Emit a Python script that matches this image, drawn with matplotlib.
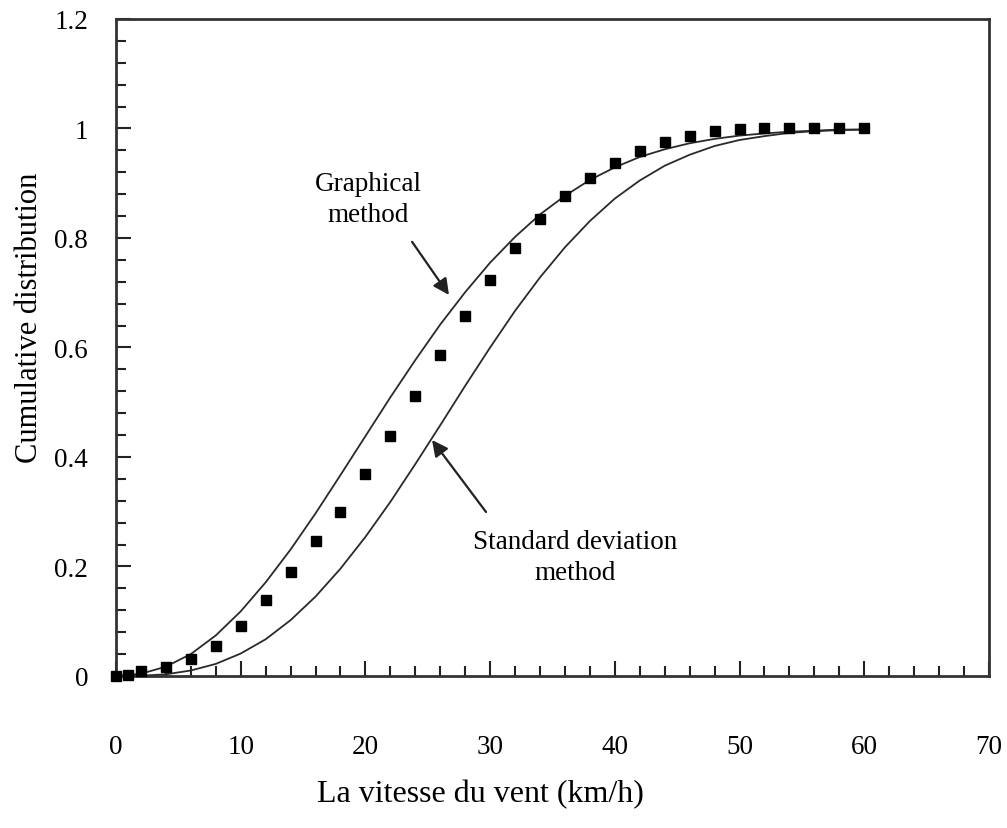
import matplotlib
matplotlib.use("Agg")
import matplotlib.pyplot as plt
from matplotlib.ticker import MultipleLocator

plt.rcParams['font.family'] = ['Liberation Serif', 'DejaVu Serif']

# Observed cumulative distribution (squares)
obs_speed = [0, 1, 2, 4, 6, 8, 10, 12, 14, 16, 18, 20, 22, 24, 26, 28, 30,
             32, 34, 36, 38, 40, 42, 44, 46, 48, 50, 52, 54, 56, 58, 60]
obs_cdf = [0.0, 0.002, 0.009, 0.016, 0.031, 0.055, 0.092, 0.139, 0.190, 0.247,
           0.299, 0.368, 0.438, 0.511, 0.586, 0.657, 0.723, 0.782, 0.835, 0.876,
           0.910, 0.937, 0.958, 0.976, 0.987, 0.996, 0.999, 1.0, 1.0, 1.0, 1.0, 1.0]

# Fitted curves
curve_speed = [0, 2, 4, 6, 8, 10, 12, 14, 16, 18, 20, 22, 24, 26, 28, 30,
               32, 34, 36, 38, 40, 42, 44, 46, 48, 50, 52, 54, 56, 58, 60]
graphical_cdf = [0.0, 0.004, 0.017, 0.040, 0.074, 0.118, 0.171, 0.231, 0.297,
                 0.367, 0.438, 0.509, 0.577, 0.642, 0.701, 0.755, 0.802, 0.843,
                 0.877, 0.906, 0.929, 0.948, 0.962, 0.973, 0.981, 0.987, 0.991,
                 0.994, 0.996, 0.998, 0.998]
stddev_cdf = [0.0, 0.0005, 0.003, 0.010, 0.022, 0.041, 0.067, 0.102, 0.145,
              0.196, 0.254, 0.318, 0.387, 0.458, 0.530, 0.600, 0.667, 0.728,
              0.783, 0.831, 0.872, 0.905, 0.932, 0.952, 0.968, 0.979, 0.986,
              0.992, 0.995, 0.997, 0.998]

x_ticks = [0, 10, 20, 30, 40, 50, 60, 70]
y_ticks = [0, 0.2, 0.4, 0.6, 0.8, 1.0, 1.2]
y_tick_labels = ['0', '0.2', '0.4', '0.6', '0.8', '1', '1.2']

fig = plt.figure(figsize=(10.07, 8.29), dpi=100)
ax = fig.add_axes([0.1152, 0.1834, 0.8669, 0.7925])

ax.plot(curve_speed, graphical_cdf, color='#2a2a2a', lw=1.3)
ax.plot(curve_speed, stddev_cdf, color='#2a2a2a', lw=1.3)
ax.plot(obs_speed, obs_cdf, 's', color='black', ms=7, clip_on=False, zorder=5)

ax.set_xlim(0, 70)
ax.set_ylim(0, 1.2)
ax.set_xticks(x_ticks)
ax.set_xticklabels([str(t) for t in x_ticks])
ax.set_yticks(y_ticks)
ax.set_yticklabels(y_tick_labels)
ax.xaxis.set_minor_locator(MultipleLocator(2))
ax.yaxis.set_minor_locator(MultipleLocator(0.04))

ax.tick_params(which='both', direction='in', top=False, right=False,
               color='#222222', width=1.5)
ax.tick_params(which='major', length=11)
ax.tick_params(which='minor', length=7)
ax.tick_params(axis='x', which='major', pad=42, labelsize=19.5)
ax.tick_params(axis='y', which='major', pad=20, labelsize=19.5)

for s in ax.spines.values():
    s.set_linewidth(2)
    s.set_color('#333333')

ax.set_xlabel('La vitesse du vent (km/h)', fontsize=23)
ax.set_ylabel('Cumulative distribution', fontsize=22)
ax.xaxis.set_label_coords(0.417, -0.157)
ax.yaxis.set_label_coords(-0.082, 0.546)

ax.annotate('', xy=(26.70, 0.696), xytext=(23.74, 0.793),
            arrowprops=dict(arrowstyle='-|>', color='#222222', lw=1.6,
                            mutation_scale=24, shrinkA=0, shrinkB=0))
ax.annotate('', xy=(25.34, 0.431), xytext=(29.67, 0.2995),
            arrowprops=dict(arrowstyle='-|>', color='#222222', lw=1.6,
                            mutation_scale=24, shrinkA=0, shrinkB=0))
ax.text(20.2, 0.871, 'Graphical\nmethod', ha='center', va='center',
        fontsize=19.5, linespacing=1.3)
ax.text(36.8, 0.217, 'Standard deviation\nmethod', ha='center', va='center',
        fontsize=19.5, linespacing=1.3)

fig.savefig('out.png', dpi=100)
